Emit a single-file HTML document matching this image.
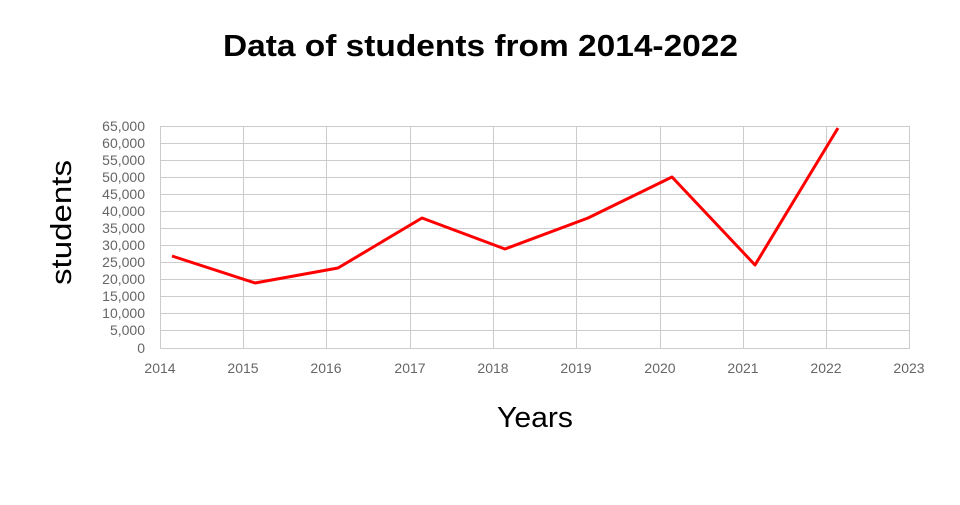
<!DOCTYPE html>
<html><head><style>body{margin:0;background:#fff}</style></head><body>
<svg width="960" height="500" xmlns="http://www.w3.org/2000/svg" font-family="'Liberation Sans',sans-serif">
<text x="223" y="56" textLength="515" lengthAdjust="spacingAndGlyphs" font-size="31" font-weight="bold" fill="#000">Data of students from 2014-2022</text>
<g stroke="#ccc" stroke-width="1">
<line x1="160" y1="126.5" x2="910" y2="126.5"/><line x1="160" y1="143.5" x2="910" y2="143.5"/><line x1="160" y1="160.5" x2="910" y2="160.5"/><line x1="160" y1="177.5" x2="910" y2="177.5"/><line x1="160" y1="194.5" x2="910" y2="194.5"/><line x1="160" y1="211.5" x2="910" y2="211.5"/><line x1="160" y1="228.5" x2="910" y2="228.5"/><line x1="160" y1="245.5" x2="910" y2="245.5"/><line x1="160" y1="262.5" x2="910" y2="262.5"/><line x1="160" y1="279.5" x2="910" y2="279.5"/><line x1="160" y1="296.5" x2="910" y2="296.5"/><line x1="160" y1="313.5" x2="910" y2="313.5"/><line x1="160" y1="330.5" x2="910" y2="330.5"/><line x1="160" y1="348.5" x2="910" y2="348.5"/>
<line x1="160.5" y1="126" x2="160.5" y2="348"/><line x1="243.5" y1="126" x2="243.5" y2="348"/><line x1="326.5" y1="126" x2="326.5" y2="348"/><line x1="410.5" y1="126" x2="410.5" y2="348"/><line x1="493.5" y1="126" x2="493.5" y2="348"/><line x1="576.5" y1="126" x2="576.5" y2="348"/><line x1="660.5" y1="126" x2="660.5" y2="348"/><line x1="743.5" y1="126" x2="743.5" y2="348"/><line x1="826.5" y1="126" x2="826.5" y2="348"/><line x1="909.5" y1="126" x2="909.5" y2="348"/>
</g>
<g font-size="14" fill="#666" text-anchor="end">
<text x="145" y="131">65,000</text><text x="145" y="148">60,000</text><text x="145" y="165">55,000</text><text x="145" y="182">50,000</text><text x="145" y="199">45,000</text><text x="145" y="216">40,000</text><text x="145" y="233">35,000</text><text x="145" y="250">30,000</text><text x="145" y="267">25,000</text><text x="145" y="284">20,000</text><text x="145" y="301">15,000</text><text x="145" y="318">10,000</text><text x="145" y="335">5,000</text><text x="145" y="353">0</text>
</g>
<g font-size="14" fill="#666" text-anchor="middle">
<text x="160" y="373">2014</text><text x="243" y="373">2015</text><text x="326" y="373">2016</text><text x="410" y="373">2017</text><text x="493" y="373">2018</text><text x="576" y="373">2019</text><text x="660" y="373">2020</text><text x="743" y="373">2021</text><text x="826" y="373">2022</text><text x="909" y="373">2023</text>
</g>
<polyline fill="none" stroke="#f00" stroke-width="3" stroke-linejoin="round" points="172,256 255,283 338,268 422,218 505,249 588,218 672,177 755,265 838,128"/>
<text x="497" y="427" textLength="76" lengthAdjust="spacingAndGlyphs" font-size="29" fill="#000">Years</text>
<text transform="translate(71,285) rotate(-90)" textLength="125" lengthAdjust="spacingAndGlyphs" font-size="29" fill="#000">students</text>
</svg>
</body></html>
